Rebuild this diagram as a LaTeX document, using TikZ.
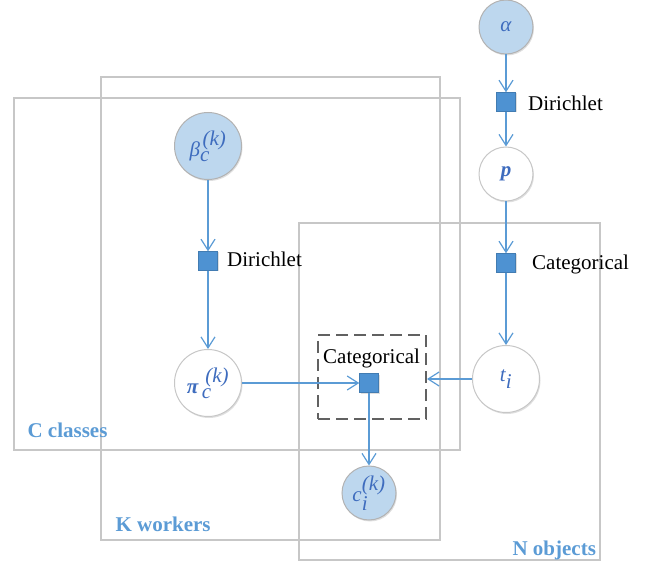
\documentclass[tikz,border=0pt]{standalone}
\usepackage{fontspec}
\setmainfont{Liberation Serif}
\usetikzlibrary{arrows.meta,shadows}
\definecolor{nodefill}{RGB}{189,215,238}
\definecolor{factorblue}{RGB}{78,146,210}
\definecolor{linkblue}{RGB}{91,155,213}
\definecolor{varblue}{RGB}{62,108,190}
\tikzset{
  var/.style={circle, draw=black!22, fill=white, line width=1pt, inner sep=0pt, text=varblue,
    font=\fontsize{21}{24}\selectfont,
    drop shadow={shadow xshift=1pt, shadow yshift=-1.5pt, opacity=.25}},
  obs/.style={var, fill=nodefill, draw=black!30},
  big/.style={minimum size=67pt},
  small/.style={minimum size=54pt},
  factor/.style={rectangle, fill=factorblue, draw=factorblue!85!black, minimum size=19pt, inner sep=0pt,
    drop shadow={shadow xshift=1pt, shadow yshift=-1pt, opacity=.25}},
  link/.style={draw=linkblue, line width=1.2pt, -{Straight Barb[length=11pt, width=14pt]}},
  plate/.style={draw=black!22, line width=1.2pt},
  platename/.style={anchor=base west, text=linkblue, font=\fontsize{21}{24}\selectfont\bfseries},
  flabel/.style={anchor=base west, inner sep=0pt, font=\fontsize{21}{24}\selectfont},
  dashbox/.style={draw=black!62, line width=2pt, dash pattern=on 12pt off 6pt,
    minimum width=108pt, minimum height=84pt}
}
\begin{document}
\begin{tikzpicture}[x=1pt, y=-1pt]
  \useasboundingbox (0,0) rectangle (657,567);
  % plates
  \draw[plate] (14,98) rectangle (460,450);
  \draw[plate] (101,77) rectangle (440,540);
  \draw[plate] (299,223) rectangle (600,560);
  \node[platename] (classes) at (24,437) {C classes};
  \node[platename] (workers) at (112,531) {K workers};
  \node[platename] (objects) at (509,555) {N objects};
  % true class side
  \node[obs, small] (alpha) at (506,27) {{\itshape α}};
  \node[factor] (dirp) at (506,102) {};
  \node[flabel] (dirplabel) at (528,111) {Dirichlet};
  \node[var, small] (p) at (506,174) {{\bfseries\itshape p}};
  \node[factor] (catt) at (506,263) {};
  \node[flabel] (cattlabel) at (532,270) {Categorical};
  \node[var, big] (t) at (506,379) {{\itshape t}$_{\textit{i}}$};
  % worker side
  \node[obs, big] (beta) at (208,146) {{\itshape β}$_{\textit{c}}^{\,\textit{(k)}}$};
  \node[factor] (dirpi) at (208,261) {};
  \node[flabel] (dirpilabel) at (227,267) {Dirichlet};
  \node[var, big] (pi) at (208,383) {{\bfseries\itshape π}\,$_{\textit{c}}^{\textit{\,(k)}}$};
  % label node
  \node[dashbox] (catbox) at (372,377) {};
  \node[flabel] (catclabel) at (323,363) {Categorical};
  \node[factor] (catc) at (369,383) {};
  \node[obs, small] (c) at (369,493) {{\itshape c}$_{\textit{i}}^{\textit{(k)}}$};
  % links
  \draw[link] (alpha) -- (dirp);
  \draw[link] (dirp) -- (p);
  \draw[link] (p) -- (catt);
  \draw[link] (catt) -- (t);
  \draw[link] (beta) -- (dirpi);
  \draw[link] (dirpi) -- (pi);
  \draw[link] (pi) -- (catc);
  \draw[link] (t) -- (t -| catbox.east);
  \draw[link] (catc) -- (c);
\end{tikzpicture}
\end{document}
